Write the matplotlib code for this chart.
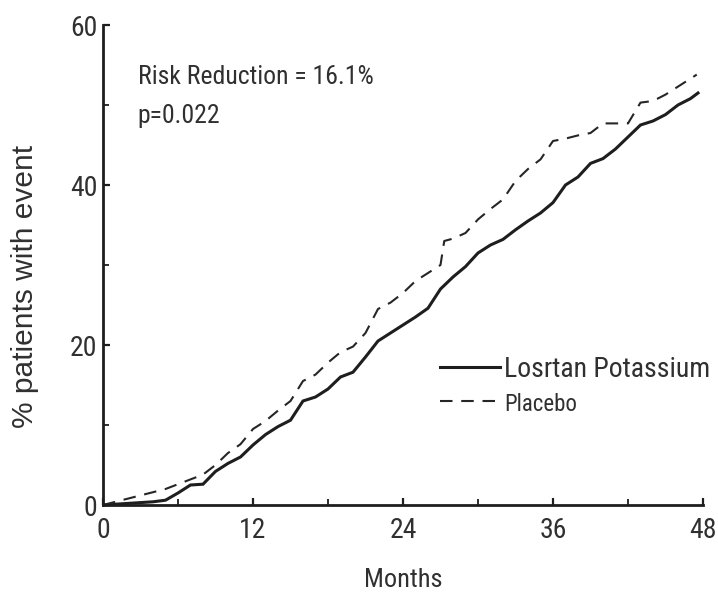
import matplotlib
matplotlib.use("Agg")
import matplotlib.pyplot as plt
from matplotlib import font_manager
from matplotlib.ticker import MultipleLocator

names = {f.name for f in font_manager.fontManager.ttflist}
FONT = "DejaVu Sans"
for cand in ["Liberation Sans Narrow", "Roboto Condensed", "Liberation Sans"]:
    if cand in names:
        FONT = cand
        break
WIDE = "Liberation Sans" if "Liberation Sans" in names else "DejaVu Sans"
plt.rcParams['font.family'] = [FONT, 'DejaVu Sans']

# Data
los_months = [0, 1, 2, 3, 4, 5, 6, 7, 8, 9, 10, 11, 12, 13, 14, 15, 16, 17, 18, 19,
              20, 21, 22, 23, 24, 25, 26, 27, 28, 29, 30, 31, 32, 33, 34, 35, 36, 37,
              38, 39, 40, 41, 42, 43, 44, 45, 46, 47, 47.6]
los_pct = [0, 0.1, 0.2, 0.3, 0.4, 0.6, 1.5, 2.5, 2.6, 4.2, 5.2, 6.0, 7.5, 8.8, 9.8, 10.6,
           13.0, 13.5, 14.5, 16.0, 16.6, 18.5, 20.5, 21.5, 22.5, 23.5, 24.6, 27.0, 28.5,
           29.8, 31.5, 32.5, 33.2, 34.4, 35.5, 36.5, 37.8, 40.0, 41.0, 42.7, 43.3, 44.5,
           46.0, 47.5, 48.0, 48.8, 50.0, 50.8, 51.5]
pla_months = [0, 1, 2, 3, 4, 5, 6, 7, 8, 9, 10, 11, 12, 13, 14, 15, 16, 17, 18, 19,
              20, 21, 22, 23, 24, 25, 26, 27, 27.3, 28, 29, 30, 31, 32, 33, 34, 35, 36,
              37, 38, 39, 40, 41, 42, 43, 44, 45, 46, 47, 47.5]
pla_pct = [0, 0.4, 0.8, 1.2, 1.6, 2.0, 2.6, 3.2, 3.8, 5.0, 6.5, 7.6, 9.5, 10.5, 11.8, 13.0,
           15.5, 16.3, 17.8, 19.1, 19.8, 21.5, 24.5, 25.3, 26.5, 28.0, 29.0, 30.0, 33.0,
           33.3, 34.0, 35.7, 37.0, 38.2, 40.5, 42.0, 43.2, 45.5, 45.8, 46.2, 46.5, 47.7,
           47.7, 47.7, 50.3, 50.5, 51.3, 52.3, 53.3, 53.8]
x_ticks = [0, 12, 24, 36, 48]
y_ticks = [0, 20, 40, 60]
series_labels = ["Losrtan Potassium", "Placebo"]
annot_lines = ["Risk Reduction = 16.1%", "p=0.022"]

INK = "#1e1e1e"
TXT = "#303030"
fig = plt.figure(figsize=(7.18, 6.0), dpi=100)
ax = fig.add_axes([103 / 718, 1 - 505 / 600, 600 / 718, 480 / 600])

l1, = ax.plot(los_months, los_pct, color=INK, lw=2.2, solid_joinstyle='miter')
l2, = ax.plot(pla_months, pla_pct, color="#262626", lw=1.5, ls=(0, (6, 4.2)))

ax.set_xlim(0, 48)
ax.set_ylim(0, 60)
ax.set_xticks(x_ticks)
ax.set_yticks(y_ticks)
ax.xaxis.set_minor_locator(MultipleLocator(6))
ax.yaxis.set_minor_locator(MultipleLocator(10))
for s in ["top", "right"]:
    ax.spines[s].set_visible(False)
for s in ["left", "bottom"]:
    ax.spines[s].set_linewidth(2.0)
    ax.spines[s].set_color(INK)
ax.tick_params(which='major', direction='in', length=5, width=1.6, color=INK,
               labelsize=20, labelcolor=TXT)
ax.tick_params(which='minor', direction='in', length=4, width=1.3, color=INK)
ax.tick_params(axis='x', which='major', pad=9)
ax.tick_params(axis='y', which='major', pad=4)

ax.set_xlabel("Months", fontsize=19, color=TXT, labelpad=17)
ax.set_ylabel("% patients with event", fontsize=21.5, color=TXT,
              family=[WIDE, 'DejaVu Sans'], va='center')
ax.yaxis.set_label_coords(-0.13, 0.456)

ax.text(0.058, 0.892, annot_lines[0], transform=ax.transAxes, fontsize=18.5,
        color=TXT, va='center')
ax.text(0.058, 0.81, annot_lines[1], transform=ax.transAxes, fontsize=18.5,
        color=TXT, va='center')

leg = ax.legend([l1, l2], series_labels, loc='upper left',
                bbox_to_anchor=(0.562, 0.31), frameon=False, fontsize=20,
                handlelength=2.15, handletextpad=0.15, labelspacing=0.3,
                borderaxespad=0, borderpad=0)
leg.get_texts()[1].set_fontsize(16.5)
for t in leg.get_texts():
    t.set_color(TXT)

fig.savefig("out.png", dpi=100)
